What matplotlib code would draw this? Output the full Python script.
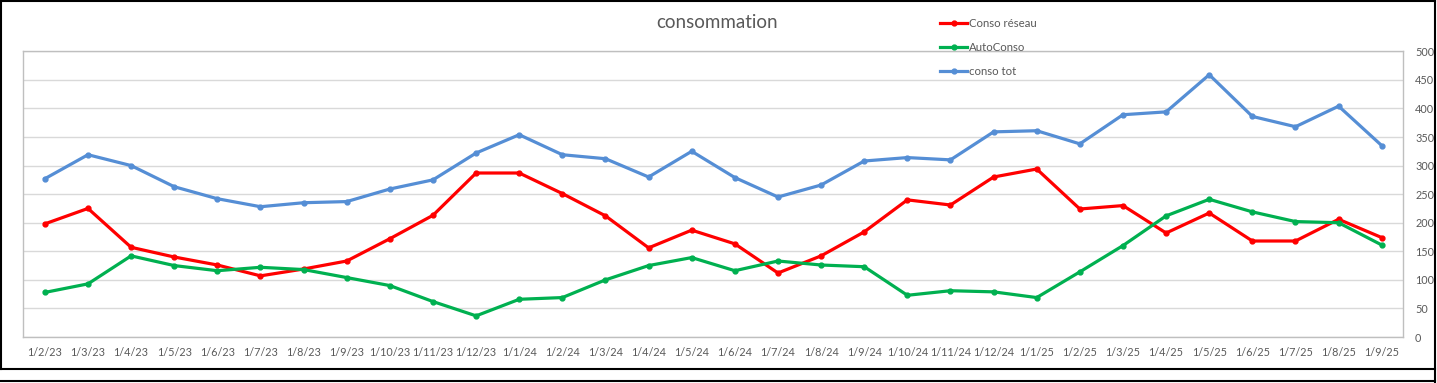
import matplotlib
matplotlib.use("Agg")
import matplotlib.pyplot as plt
from matplotlib.lines import Line2D

dates = ["1/2/23", "1/3/23", "1/4/23", "1/5/23", "1/6/23", "1/7/23", "1/8/23", "1/9/23",
         "1/10/23", "1/11/23", "1/12/23", "1/1/24", "1/2/24", "1/3/24", "1/4/24", "1/5/24",
         "1/6/24", "1/7/24", "1/8/24", "1/9/24", "1/10/24", "1/11/24", "1/12/24", "1/1/25",
         "1/2/25", "1/3/25", "1/4/25", "1/5/25", "1/6/25", "1/7/25", "1/8/25", "1/9/25"]

conso_reseau = [198, 225, 157, 140, 126, 107, 119, 133, 172, 213, 287, 287, 251, 212, 156, 187,
                163, 112, 142, 184, 240, 231, 280, 294, 224, 230, 182, 217, 168, 168, 206, 174]
autoconso = [78, 93, 142, 125, 116, 122, 118, 104, 90, 62, 37, 66, 69, 100, 125, 139,
             116, 133, 126, 123, 73, 81, 79, 69, 114, 160, 212, 241, 219, 202, 200, 161]
conso_tot = [277, 319, 300, 263, 242, 228, 235, 237, 259, 275, 322, 354, 319, 312, 280, 325,
             279, 245, 266, 308, 314, 310, 359, 361, 338, 389, 394, 459, 386, 368, 404, 335]

series_names = ["Conso réseau", "AutoConso", "conso tot"]
colors = ["#FF0000", "#00B050", "#558ED5"]
yticks = [0, 50, 100, 150, 200, 250, 300, 350, 400, 450, 500]

W, H = 1437, 383
fig = plt.figure(figsize=(W / 100, H / 100), dpi=100)
fig.patch.set_facecolor("white")

ax = fig.add_axes([23.3 / W, 46 / H, (1403.3 - 23.3) / W, (337 - 51.3) / H])
x = list(range(len(dates)))
text_color = "#595959"
font = ["Lato", "DejaVu Sans"]
tick_size = 7.8

handles = []
for vals, name, c in zip([conso_reseau, autoconso, conso_tot], series_names, colors):
    h, = ax.plot(x, vals, color=c, lw=2.3, marker="o", ms=3.5, label=name,
                 solid_joinstyle="round", zorder=3)
    handles.append(h)

ax.set_xlim(-0.5, len(dates) - 0.5)
ax.set_ylim(0, 500)
ax.set_yticks(yticks)
ax.yaxis.tick_right()
ax.grid(axis="y", color="#D9D9D9", lw=1)
ax.set_axisbelow(True)
ax.set_xticks(x)
ax.set_xticklabels(dates)
ax.tick_params(axis="both", length=0, labelsize=tick_size, labelcolor=text_color)
ax.tick_params(axis="x", pad=7)
ax.tick_params(axis="y", pad=8.5)
for lab in ax.get_xticklabels() + ax.get_yticklabels():
    lab.set_fontfamily(font)
for lab in ax.get_yticklabels():
    lab.set_horizontalalignment("left")
for s in ax.spines.values():
    s.set_color("#BFBFBF")
    s.set_linewidth(1)

fig.text(717 / W, 1 - 22 / H, "consommation", ha="center", va="center",
         fontsize=13.5, color=text_color, family=font)

leg = fig.legend(handles=handles, loc="upper left", bbox_to_anchor=(940 / W, 1 - 18 / H),
                 bbox_transform=fig.transFigure, frameon=False,
                 labelcolor=text_color, handlelength=2.4, handletextpad=0.15,
                 labelspacing=1.15, borderpad=0, borderaxespad=0,
                 prop={"family": font, "size": 8.2})

# outer frame lines
fig.add_artist(Line2D([0.5 / W, 0.5 / W], [1, 1 - 369 / H], transform=fig.transFigure, color="black", lw=1.5))
fig.add_artist(Line2D([0, 1435 / W], [1 - 0.5 / H, 1 - 0.5 / H], transform=fig.transFigure, color="black", lw=1.5))
fig.add_artist(Line2D([1435 / W, 1435 / W], [1, 0], transform=fig.transFigure, color="black", lw=1.5))
fig.add_artist(Line2D([0, 1435 / W], [1 - 369 / H, 1 - 369 / H], transform=fig.transFigure, color="black", lw=1.5))
fig.add_artist(Line2D([0, 1435 / W], [1 - 381 / H, 1 - 381 / H], transform=fig.transFigure, color="black", lw=1.5))

fig.savefig("out.png", dpi=100)
